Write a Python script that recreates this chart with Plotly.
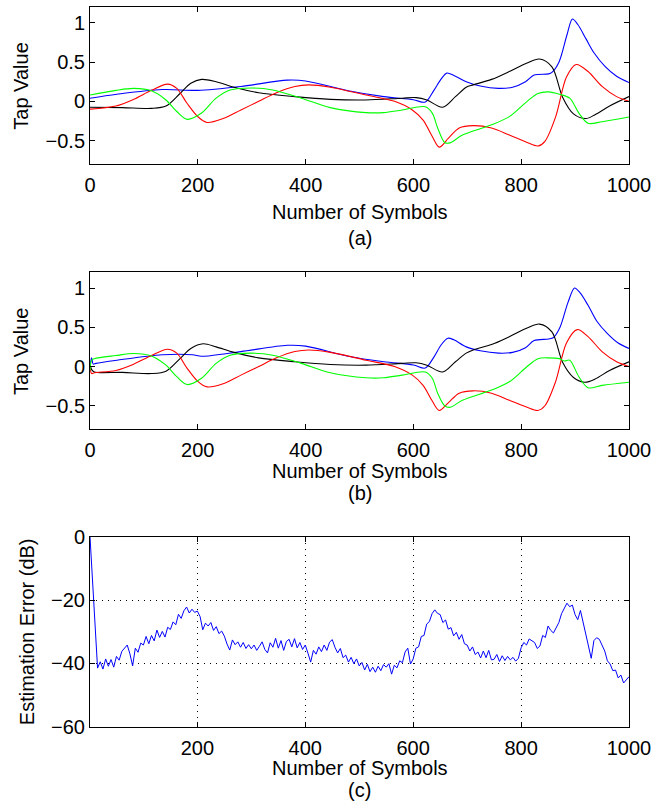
import plotly.graph_objects as go

# ---------------- data ----------------
# Panel (a): true tap values
blue_a_x = [0, 50, 134, 200, 280, 366, 400, 479, 545, 600, 622, 638, 652, 662, 675, 698, 724, 758, 784, 808, 824, 851, 857, 870, 885, 895, 905, 920, 935, 955, 977, 1000]
blue_a_y = [0.04, 0.09, 0.15, 0.14, 0.19, 0.27, 0.26, 0.135, 0.06, 0.02, -0.01, 0.14, 0.29, 0.36, 0.33, 0.25, 0.195, 0.165, 0.18, 0.25, 0.335, 0.35, 0.37, 0.5, 0.85, 1.05, 0.98, 0.8, 0.62, 0.45, 0.32, 0.24]

black_a_x = [0, 60, 114, 141, 167, 187, 207, 234, 267, 313, 380, 446, 512, 579, 605, 625, 654, 678, 698, 711, 745, 778, 811, 834, 857, 877, 897, 920, 937, 964, 1000]
black_a_y = [-0.075, -0.08, -0.09, -0.06, 0.1, 0.23, 0.28, 0.25, 0.18, 0.11, 0.06, 0.025, 0.017, 0.04, 0.047, 0.017, -0.076, 0.06, 0.18, 0.21, 0.28, 0.38, 0.49, 0.54, 0.44, 0.05, -0.16, -0.22, -0.17, -0.06, 0.06]

red_a_x = [0, 48, 81, 114, 144, 161, 180, 200, 217, 247, 280, 313, 346, 380, 406, 446, 512, 565, 598, 618, 635, 648, 665, 685, 711, 745, 778, 811, 831, 844, 864, 884, 902, 924, 950, 977, 1000]
red_a_y = [-0.1, -0.06, 0.025, 0.14, 0.22, 0.165, -0.025, -0.195, -0.27, -0.22, -0.11, 0.0, 0.11, 0.19, 0.21, 0.18, 0.08, 0.0, -0.11, -0.24, -0.45, -0.585, -0.47, -0.34, -0.31, -0.34, -0.43, -0.525, -0.57, -0.51, -0.195, 0.31, 0.47, 0.38, 0.19, 0.06, 0.0]

green_a_x = [0, 48, 81, 114, 141, 161, 180, 207, 234, 260, 300, 339, 392, 446, 512, 545, 579, 622, 635, 645, 658, 668, 691, 745, 778, 811, 831, 851, 871, 890, 907, 924, 950, 1000]
green_a_y = [0.08, 0.14, 0.165, 0.135, 0.017, -0.13, -0.23, -0.15, 0.04, 0.144, 0.17, 0.144, 0.04, -0.08, -0.144, -0.144, -0.11, -0.07, -0.15, -0.34, -0.525, -0.53, -0.43, -0.3, -0.195, 0.0, 0.1, 0.12, 0.09, 0.04, -0.15, -0.28, -0.26, -0.2]

# Panel (b): estimated tap values
blue_b_x = [0, 3, 6, 11, 50, 134, 190, 207, 280, 366, 400, 479, 545, 600, 622, 638, 652, 664, 675, 698, 724, 758, 784, 808, 824, 851, 860, 872, 887, 899, 909, 924, 940, 960, 980, 1000]
blue_b_y = [0.0, 0.11, 0.03, 0.04, 0.08, 0.15, 0.15, 0.13, 0.19, 0.27, 0.26, 0.13, 0.06, 0.02, -0.02, 0.12, 0.28, 0.36, 0.34, 0.25, 0.2, 0.17, 0.18, 0.24, 0.33, 0.35, 0.37, 0.5, 0.82, 1.0, 0.94, 0.78, 0.58, 0.42, 0.3, 0.23]

black_b_x = [0, 3, 8, 60, 114, 141, 167, 187, 210, 234, 267, 313, 380, 446, 512, 579, 605, 625, 654, 678, 698, 711, 745, 778, 811, 834, 857, 877, 897, 918, 937, 964, 1000]
black_b_y = [0.03, -0.04, -0.07, -0.075, -0.09, -0.06, 0.1, 0.23, 0.29, 0.25, 0.18, 0.11, 0.06, 0.025, 0.017, 0.04, 0.047, 0.017, -0.07, 0.06, 0.17, 0.21, 0.28, 0.38, 0.49, 0.54, 0.44, 0.05, -0.14, -0.2, -0.16, -0.05, 0.06]

red_b_x = [0, 3, 8, 48, 81, 114, 144, 161, 180, 200, 217, 247, 280, 313, 346, 380, 406, 446, 512, 565, 598, 618, 635, 648, 665, 685, 711, 745, 778, 811, 831, 844, 864, 884, 904, 924, 950, 977, 1000]
red_b_y = [0.0, -0.09, -0.08, -0.05, 0.03, 0.14, 0.22, 0.17, -0.02, -0.19, -0.26, -0.22, -0.11, 0.0, 0.11, 0.19, 0.21, 0.18, 0.08, 0.0, -0.11, -0.24, -0.44, -0.56, -0.46, -0.34, -0.31, -0.34, -0.43, -0.52, -0.56, -0.5, -0.19, 0.3, 0.47, 0.38, 0.19, 0.06, 0.0]

green_b_x = [0, 3, 8, 48, 81, 114, 141, 161, 180, 207, 234, 260, 300, 339, 392, 446, 512, 545, 579, 622, 635, 645, 658, 668, 691, 745, 778, 811, 831, 851, 871, 880, 890, 907, 924, 950, 1000]
green_b_y = [-0.05, 0.08, 0.1, 0.14, 0.165, 0.135, 0.017, -0.13, -0.23, -0.15, 0.04, 0.144, 0.17, 0.144, 0.04, -0.08, -0.144, -0.144, -0.11, -0.07, -0.15, -0.34, -0.5, -0.52, -0.43, -0.3, -0.195, 0.0, 0.1, 0.11, 0.1, 0.07, 0.08, -0.13, -0.27, -0.24, -0.2]

# Panel (c): estimation error in dB, read every 5 symbols
err_step = 5
err_db = [
    0, -12, -30, -41.5, -39.5, -41.8, -38.6, -40.9, -38.8, -41.2,
    -37.8, -39, -36.2, -35.3, -34.2, -37, -40.8, -35.2, -36.5, -33.6,
    -34.2, -31.5, -33.8, -31.2, -32.9, -29.5, -31.8, -29.9, -31.7, -28.6,
    -29.3, -26.9, -27.8, -24.5, -25.8, -23.4, -22.2, -24.1, -22.9, -23.9,
    -23.5, -25.2, -29.4, -27.3, -28.2, -27.1, -29.6, -28.4, -30.6, -29.8,
    -31.4, -33.9, -35.8, -32.6, -34.1, -33.2, -34.9, -33.4, -35.3, -34.1,
    -35.4, -34.2, -35.9, -34.6, -33.2, -35.6, -36.7, -33.5, -34.9, -32.1,
    -35.2, -32.8, -35.9, -33.1, -32.4, -34.8, -32.2, -35.1, -33.4, -35.6,
    -34.2, -36.8, -39.6, -35.9, -37.1, -34.8, -36.3, -34.2, -35.9, -33.3,
    -32.5, -34.9, -36.7, -35.3, -38.2, -37.4, -39.6, -38.1, -40.1, -38.6,
    -40.8, -39.7, -42.1, -40.3, -42.6, -41.2, -42.8, -40.9, -42.3, -40.4,
    -41.2, -40.1, -43.4, -40.6, -41.4, -39.2, -39.8, -36.4, -35.2, -40.2,
    -38.6, -35.2, -34.8, -31.5, -31.2, -27.6, -26.8, -24.3, -23.1, -24.2,
    -24.6, -27.1, -26.3, -29.2, -28.7, -31.3, -30.2, -32.4, -30.9, -33.8,
    -34.2, -36.1, -34.8, -37.2, -36.4, -38.3, -36.1, -38.2, -35.9, -38.9,
    -38.7, -37.2, -39.4, -37.6, -39.1, -37.8, -38.9, -38.1, -39.3, -38.4,
    -35.1, -33.4, -34.2, -32.3, -32.8, -33.4, -35.3, -34.5, -31.2, -31.8,
    -28.2, -29.6, -30.4, -28.8, -27.1, -24.3, -22.8, -21.0, -22.1, -21.6,
    -24.6, -26.2, -23.3, -27.1, -31.2, -34.6, -38.4, -32.8, -31.9, -32.4,
    -34.5, -36.1, -39.2, -40.2, -42.3, -42.1, -44.6, -43.7, -46.2, -45.1,
    -44.2,
]
err_x = [max(1, i * err_step) for i in range(len(err_db))]

x_ticks_ab = [0, 200, 400, 600, 800, 1000]
x_ticks_c = [200, 400, 600, 800, 1000]
y_ticks_ab = [-0.5, 0, 0.5, 1]
y_ticks_c = [-60, -40, -20, 0]

# ---------------- figure ----------------
W, H = 666, 806
FONT = "Liberation Sans, Arial, sans-serif"

def px_x(p):
    return p / W

def px_y(p):
    return 1 - p / H

fig = go.Figure()

def add_line(x, y, color, xa, ya):
    fig.add_trace(go.Scatter(x=x, y=y, mode="lines", xaxis=xa, yaxis=ya,
                             line=dict(color=color, width=1.1, shape="spline", smoothing=0.9),
                             showlegend=False, hoverinfo="skip"))

add_line(blue_a_x, blue_a_y, "#0000ff", "x", "y")
add_line(black_a_x, black_a_y, "#000000", "x", "y")
add_line(red_a_x, red_a_y, "#ff0000", "x", "y")
add_line(green_a_x, green_a_y, "#00ff00", "x", "y")

add_line(blue_b_x, blue_b_y, "#0000ff", "x2", "y2")
add_line(black_b_x, black_b_y, "#000000", "x2", "y2")
add_line(red_b_x, red_b_y, "#ff0000", "x2", "y2")
add_line(green_b_x, green_b_y, "#00ff00", "x2", "y2")

fig.add_trace(go.Scatter(x=err_x, y=err_db, mode="lines", xaxis="x3", yaxis="y3",
                         line=dict(color="#0000ff", width=1),
                         showlegend=False, hoverinfo="skip"))

xdom = [px_x(90), px_x(629)]
common = dict(showline=True, linecolor="black", linewidth=1, mirror="ticks",
              ticks="inside", ticklen=5, tickcolor="black", tickwidth=1,
              zeroline=False, automargin=False,
              tickfont=dict(family=FONT, size=20, color="black"))
xcommon = dict(ticklabelstandoff=3, **common)
grid = dict(showgrid=True, gridcolor="black", griddash="1px,5px", gridwidth=1)

fig.update_layout(
    template="none",
    width=W, height=H, margin=dict(l=0, r=0, t=0, b=0, pad=0), autosize=False,
    paper_bgcolor="white", plot_bgcolor="white",
    font=dict(family=FONT, size=20, color="black"),
    xaxis=dict(domain=xdom, range=[0, 1000], tickvals=x_ticks_ab, showgrid=False, anchor="y", **xcommon),
    yaxis=dict(domain=[px_y(164), px_y(7.3)], range=[-0.8, 1.2], tickvals=y_ticks_ab, showgrid=False, anchor="x", **common),
    xaxis2=dict(domain=xdom, range=[0, 1000], tickvals=x_ticks_ab, showgrid=False, anchor="y2", **xcommon),
    yaxis2=dict(domain=[px_y(429.3), px_y(272.3)], range=[-0.8, 1.2], tickvals=y_ticks_ab, showgrid=False, anchor="x2", **common),
    xaxis3=dict(domain=xdom, range=[1, 1000], tickvals=x_ticks_c, anchor="y3", **grid, **xcommon),
    yaxis3=dict(domain=[px_y(726.7), px_y(536.7)], range=[-60, 0], tickvals=y_ticks_c, anchor="x3", **grid, **common),
)

cx = px_x(359.5)
labels = [
    ("Number of Symbols", cx, 212, 0),
    ("(a)", cx, 238, 0),
    ("Number of Symbols", cx, 471, 0),
    ("(b)", cx, 493, 0),
    ("Number of Symbols", cx, 768, 0),
    ("(c)", cx, 790, 0),
    ("Tap Value", px_x(21), 85.7, -90),
    ("Tap Value", px_x(21), 351, -90),
    ("Estimation Error (dB)", px_x(26.5), 631.7, -90),
]
for text, x, y, ang in labels:
    fig.add_annotation(text=text, x=x, y=px_y(y), xref="paper", yref="paper",
                       showarrow=False, textangle=ang, xanchor="center", yanchor="middle",
                       font=dict(family=FONT, size=20, color="black"))

fig.write_html("out.html", config={"displayModeBar": False},
               post_script="document.body.style.margin='0';document.body.style.overflow='hidden';")
